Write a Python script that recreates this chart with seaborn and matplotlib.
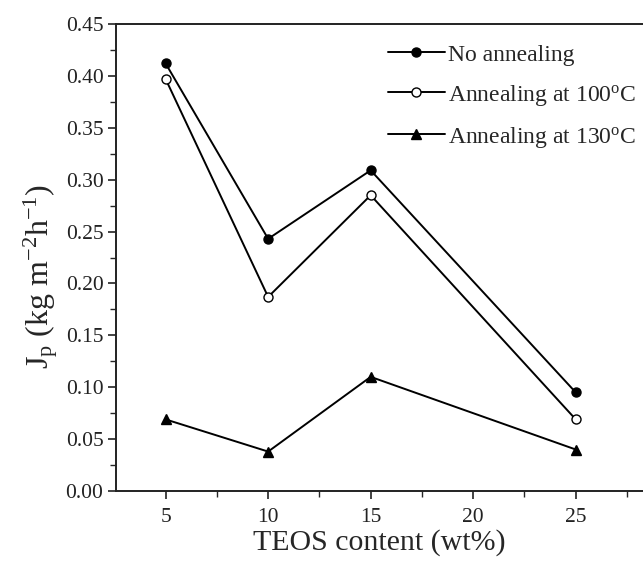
import matplotlib
matplotlib.use("Agg")
import matplotlib.pyplot as plt
from matplotlib.ticker import MultipleLocator, FormatStrFormatter
import seaborn as sns
import pandas as pd

teos = [5, 10, 15, 25]
no_anneal = [0.412, 0.243, 0.309, 0.095]
anneal_100 = [0.397, 0.187, 0.285, 0.069]
anneal_130 = [0.069, 0.038, 0.110, 0.040]
labels = ["No annealing", "Annealing at 100$^\\mathrm{o}$C", "Annealing at 130$^\\mathrm{o}$C"]

sns.set_style("ticks")
plt.rcParams['font.family'] = ['Liberation Serif', 'DejaVu Serif']
plt.rcParams['mathtext.fontset'] = 'custom'
plt.rcParams['mathtext.rm'] = 'Liberation Serif'
plt.rcParams['mathtext.it'] = 'Liberation Serif:italic'

fig = plt.figure(figsize=(6.43, 5.62), dpi=100)
ax = fig.add_axes([0.1804, 0.1263, 0.8196, 0.831])

series = [(no_anneal, 'o', 'black', 6.5), (anneal_100, 'o', 'white', 6.5), (anneal_130, '^', 'black', 7)]
for (vals, mk, fc, ms), lab in zip(series, labels):
    df = pd.DataFrame({"x": teos, "y": vals})
    sns.lineplot(data=df, x="x", y="y", ax=ax, color='black', lw=1.4,
                 marker=mk, markersize=ms, markerfacecolor=fc, markeredgecolor='black',
                 markeredgewidth=1.0, label=lab)

ax.set_xlim(2.58, 28.28)
ax.set_ylim(0, 0.45)
ax.xaxis.set_major_locator(MultipleLocator(5))
ax.xaxis.set_minor_locator(MultipleLocator(2.5))
ax.yaxis.set_major_locator(MultipleLocator(0.05))
ax.yaxis.set_minor_locator(MultipleLocator(0.025))
ax.yaxis.set_major_formatter(FormatStrFormatter('%.2f'))
ax.tick_params(which='major', direction='out', length=6, width=1.2, labelsize=15.5, colors='#222222')
ax.tick_params(which='minor', direction='out', length=4, width=1.0)
ax.tick_params(axis='x', pad=6)
ax.tick_params(axis='y', pad=3)
for s in ['left', 'bottom', 'top']:
    ax.spines[s].set_linewidth(1.4)
    ax.spines[s].set_color('#222222')
ax.spines['right'].set_visible(False)

ax.set_xlabel("TEOS content (wt%)", fontsize=21.5, labelpad=2)
ax.set_ylabel("J$_\\mathrm{p}$ (kg m$^{-2}$h$^{-1}$)", fontsize=23)
ax.yaxis.set_label_coords(-0.106, 0.46)

leg = ax.legend(loc='upper left', bbox_to_anchor=(0.516, 0.957), frameon=False, fontsize=17,
                handlelength=2.4, handletextpad=0.15, labelspacing=0.72, borderaxespad=0.0,
                borderpad=0.0)

fig.savefig("out.png", dpi=100)
